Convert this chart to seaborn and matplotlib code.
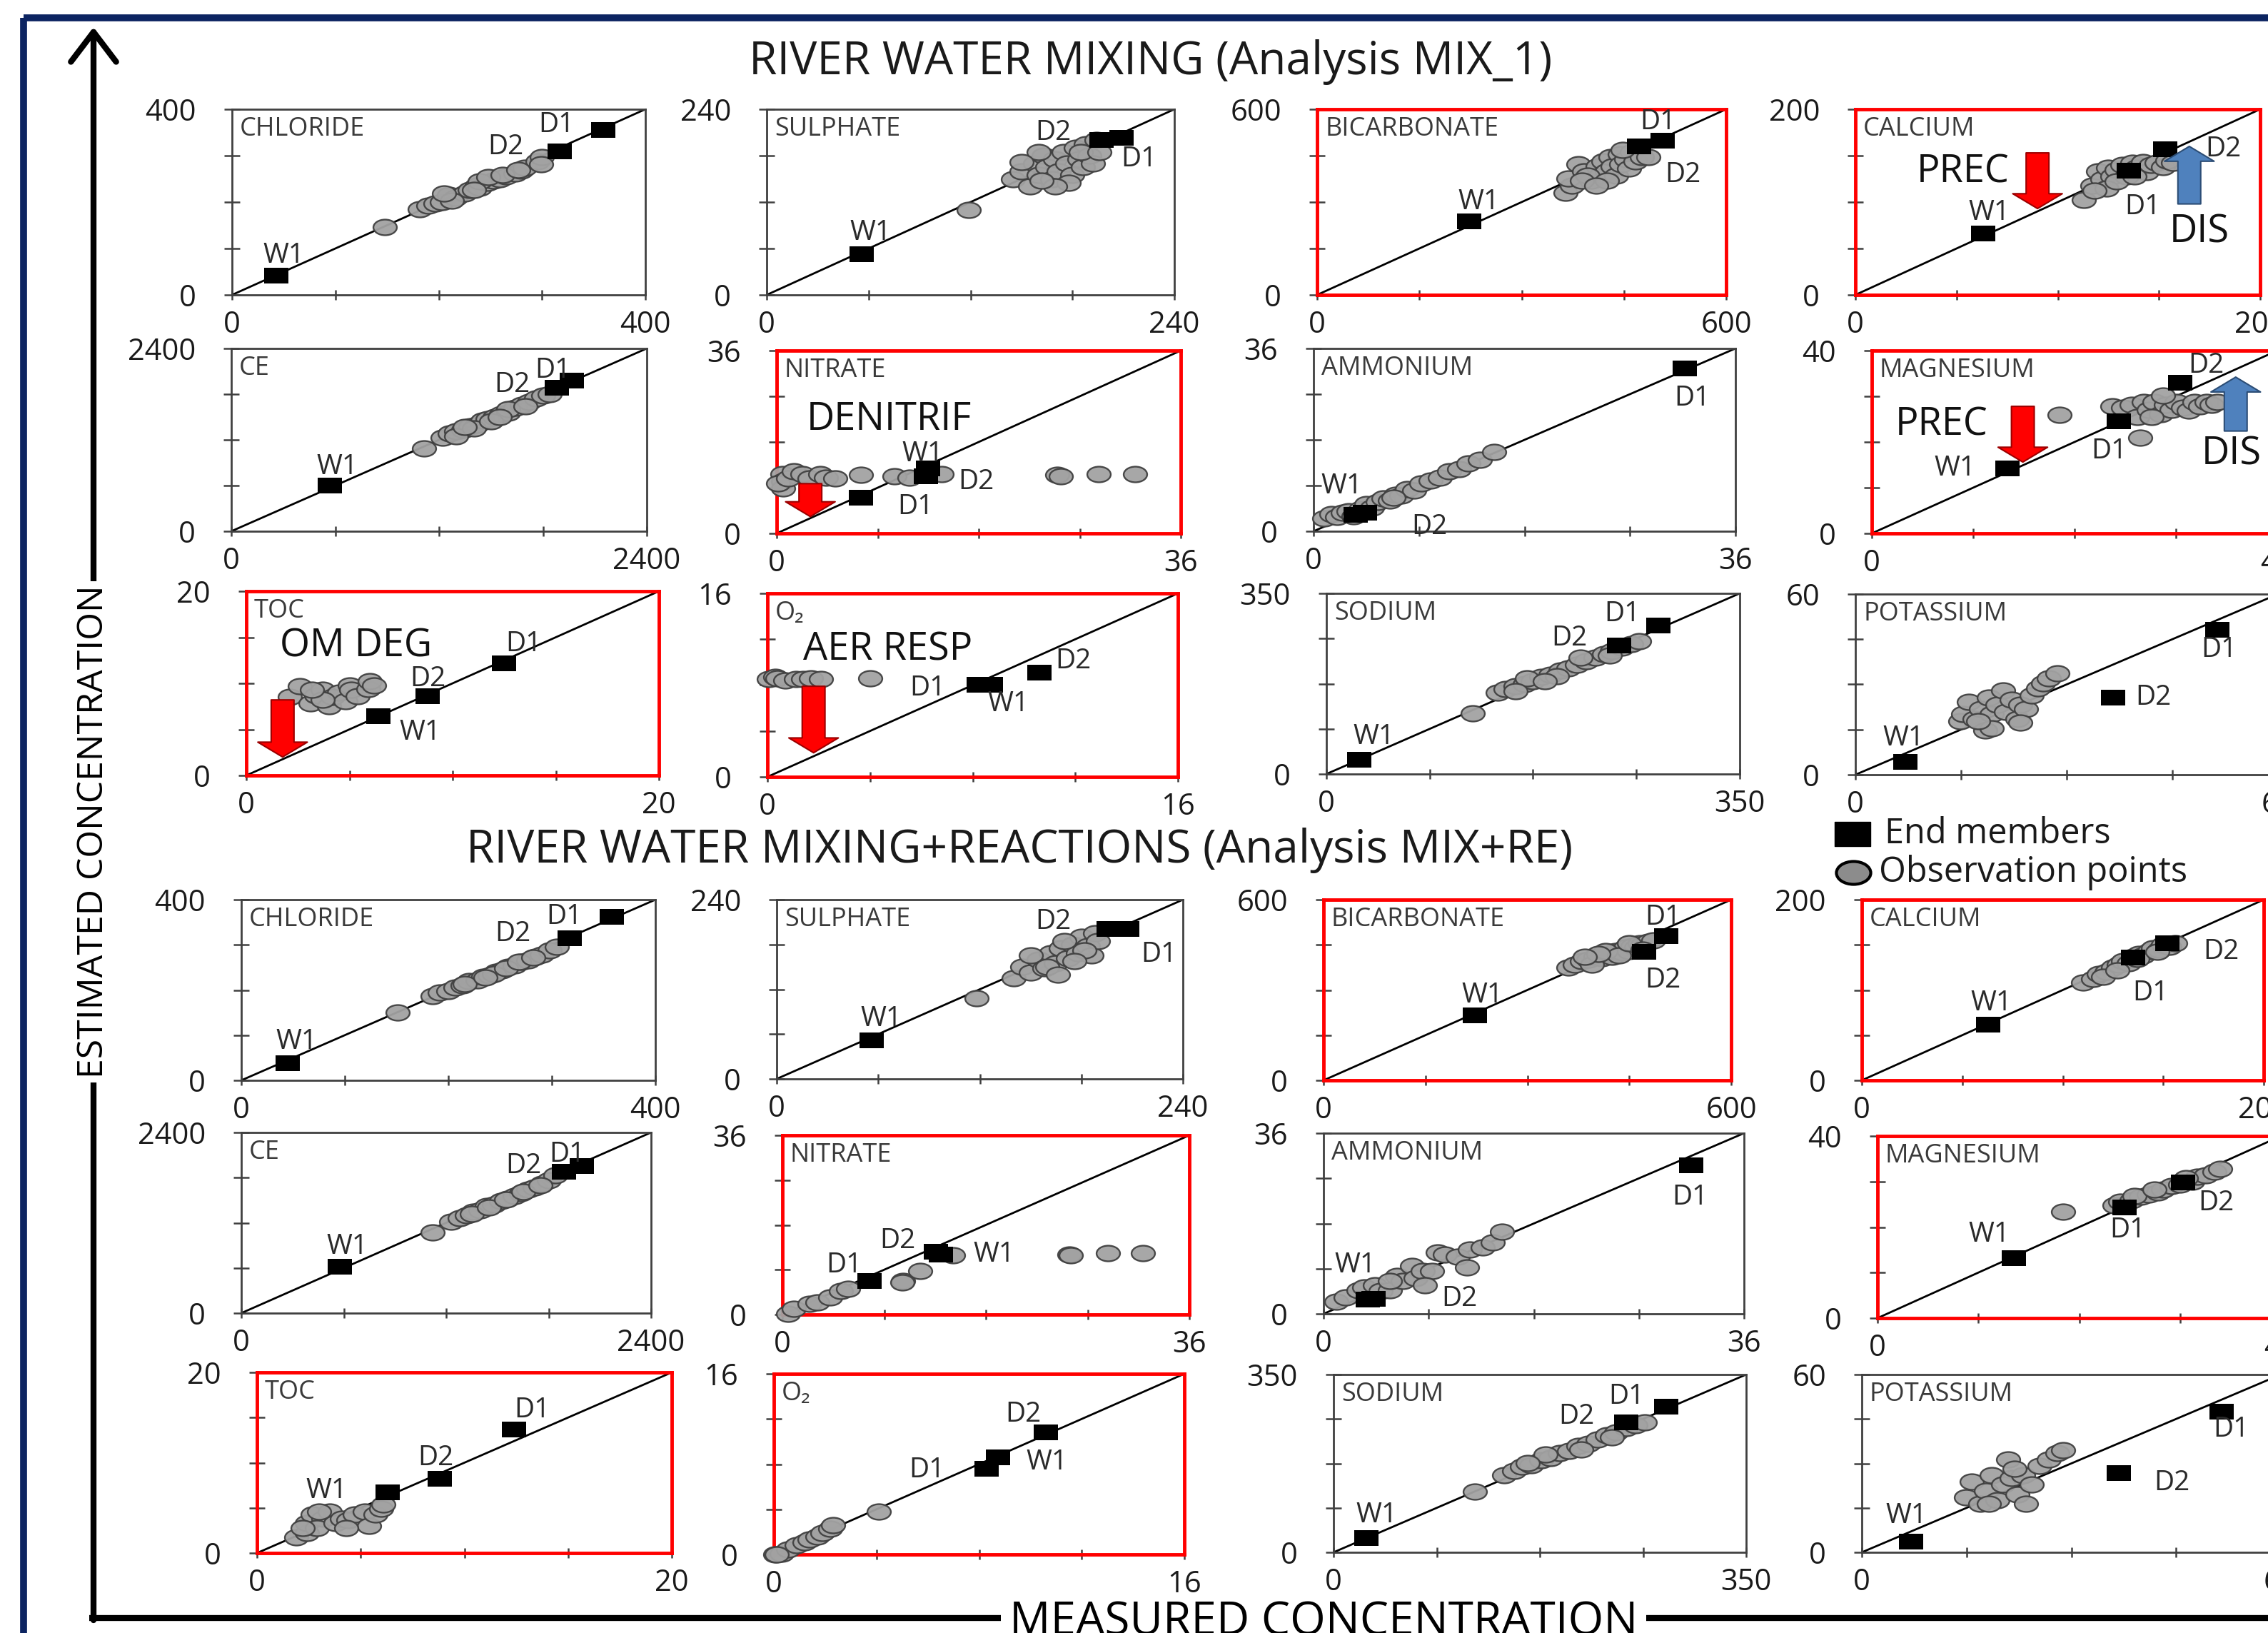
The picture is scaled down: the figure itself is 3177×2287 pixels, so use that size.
import matplotlib
matplotlib.use("Agg")
import matplotlib.pyplot as plt
import seaborn as sns
import numpy as np
from matplotlib.path import Path
from matplotlib.patches import Rectangle

# ---------------- data ----------------
panel_keys = ["cl", "so4", "hco3", "ca", "ce", "no3", "nh4", "mg", "toc", "o2", "na", "k"]
panel_names = ["CHLORIDE", "SULPHATE", "BICARBONATE", "CALCIUM", "CE", "NITRATE",
               "AMMONIUM", "MAGNESIUM", "TOC", "O\u2082", "SODIUM", "POTASSIUM"]
panel_max = [400, 240, 600, 200, 2400, 36, 36, 40, 20, 16, 350, 60]
red_panels = ["hco3", "ca", "no3", "mg", "toc", "o2"]
end_names = ["W1", "D1", "D2"]

# --- Analysis MIX_1 ---
m1_cl_obs_x = [148, 182, 190, 197, 203, 210, 216, 225, 230, 237, 240, 247, 253, 259, 265, 274, 280, 283, 296, 300, 240, 248, 262, 277, 299, 213, 205, 234]
m1_cl_obs_y = [146, 185, 192, 197, 200, 215, 210, 218, 226, 236, 231, 241, 246, 249, 256, 262, 267, 274, 287, 297, 244, 254, 259, 269, 282, 203, 218, 226]
m1_cl_end_x = [43, 359, 317]
m1_cl_end_y = [41, 356, 309]

m1_so4_obs_x = [119, 145, 150, 155, 158, 160, 163, 165, 168, 170, 172, 175, 177, 180, 182, 184, 186, 188, 190, 192, 194, 178, 170, 185, 160, 150, 196, 162]
m1_so4_obs_y = [110, 150, 160, 140, 170, 155, 180, 165, 150, 175, 160, 185, 170, 155, 190, 175, 165, 195, 180, 170, 200, 145, 140, 185, 185, 172, 185, 148]
m1_so4_end_x = [56, 209, 197]
m1_so4_end_y = [53, 203, 200]

m1_hco3_obs_x = [364, 374, 369, 383, 392, 402, 411, 416, 420, 425, 430, 434, 439, 444, 446, 453, 458, 462, 467, 476, 486, 448, 397, 388, 425, 409]
m1_hco3_obs_y = [331, 354, 377, 423, 400, 369, 415, 385, 431, 400, 446, 415, 385, 454, 423, 438, 408, 462, 431, 446, 446, 469, 385, 369, 369, 354]
m1_hco3_end_x = [223, 507, 472]
m1_hco3_end_y = [238, 498, 480]

m1_ca_obs_x = [113, 117, 120, 122, 125, 127, 129, 132, 134, 137, 139, 142, 144, 146, 149, 152, 154, 157, 124, 129, 138, 118]
m1_ca_obs_y = [102, 118, 133, 125, 137, 128, 135, 140, 128, 142, 137, 143, 132, 140, 142, 138, 145, 142, 115, 122, 128, 112]
m1_ca_end_x = [63, 135, 153]
m1_ca_end_y = [66, 134, 157]

m1_ce_obs_x = [1112, 1220, 1260, 1300, 1340, 1380, 1420, 1450, 1480, 1520, 1560, 1600, 1640, 1680, 1720, 1760, 1800, 1840, 1300, 1400, 1500, 1600, 1700, 1550, 1350]
m1_ce_obs_y = [1086, 1230, 1280, 1310, 1330, 1380, 1400, 1450, 1470, 1500, 1540, 1560, 1620, 1660, 1700, 1740, 1780, 1800, 1250, 1350, 1440, 1600, 1640, 1500, 1370]
m1_ce_end_x = [570, 1965, 1881]
m1_ce_end_y = [600, 1981, 1886]

m1_no3_obs_x = [0.5, 0.6, 0.6, 0.1, 1.0, 1.5, 2.3, 2.9, 3.9, 4.4, 5.2, 7.5, 10.5, 11.8, 14.7, 25.0, 25.3, 28.7, 31.9]
m1_no3_obs_y = [11.7, 10.3, 8.9, 9.8, 10.8, 12.2, 11.7, 10.8, 11.7, 11.0, 10.8, 11.5, 11.25, 10.9, 11.7, 11.5, 11.25, 11.7, 11.7]
m1_no3_end_x = [13.5, 7.5, 13.3]
m1_no3_end_y = [12.8, 7.0, 11.2]

m1_nh4_obs_x = [0.9, 1.5, 2.0, 2.5, 3.0, 4.0, 4.5, 5.0, 5.5, 6.0, 6.5, 7.0, 7.5, 8.0, 8.6, 9.2, 10.0, 10.8, 11.6, 12.4, 13.2, 14.2, 15.4, 3.4, 6.8]
m1_nh4_obs_y = [2.6, 3.4, 2.8, 3.6, 4.0, 4.4, 5.3, 4.6, 5.8, 6.4, 6.0, 7.2, 7.0, 8.3, 8.0, 9.4, 10.0, 10.6, 11.8, 12.2, 13.4, 14.0, 15.6, 3.0, 6.6]
m1_nh4_end_x = [3.6, 31.7, 4.4]
m1_nh4_end_y = [3.2, 32.0, 3.6]

m1_mg_obs_x = [18.5, 23.7, 24.8, 25.6, 26.2, 26.5, 26.8, 27.3, 27.9, 28.5, 29.0, 29.6, 30.1, 30.7, 31.3, 31.8, 32.4, 33.0, 33.5, 34.1, 27.6, 28.7]
m1_mg_obs_y = [25.9, 27.8, 27.5, 28.1, 25.4, 21.0, 28.8, 27.1, 28.8, 26.1, 28.1, 27.1, 28.8, 27.5, 26.8, 28.8, 27.8, 28.8, 28.1, 28.8, 25.4, 30.2]
m1_mg_end_x = [13.4, 24.4, 30.4]
m1_mg_end_y = [14.2, 24.5, 32.9]

m1_toc_obs_x = [2.1, 2.6, 3.1, 3.4, 3.7, 4.0, 4.2, 4.5, 4.8, 5.0, 5.1, 5.4, 5.9, 6.0, 6.2, 3.7, 3.2]
m1_toc_obs_y = [8.5, 9.7, 7.8, 8.7, 9.3, 7.5, 8.5, 9.0, 8.1, 9.8, 9.3, 8.6, 9.4, 10.2, 9.8, 8.2, 9.3]
m1_toc_end_x = [6.4, 12.5, 8.8]
m1_toc_end_y = [6.4, 12.2, 8.6]

m1_o2_obs_x = [0.05, 0.3, 0.4, 0.7, 1.1, 1.4, 1.7, 2.1, 4.0]
m1_o2_obs_y = [8.5, 8.7, 8.6, 8.4, 8.5, 8.5, 8.6, 8.5, 8.6]
m1_o2_end_x = [8.7, 8.25, 10.6]
m1_o2_end_y = [8.0, 8.0, 9.06]

m1_na_obs_x = [124, 145, 152, 160, 168, 175, 182, 190, 198, 205, 212, 220, 228, 235, 242, 250, 258, 265, 170, 195, 215, 240, 160, 185]
m1_na_obs_y = [118, 158, 165, 170, 175, 180, 188, 192, 200, 205, 212, 218, 225, 232, 238, 245, 252, 258, 185, 190, 225, 230, 160, 180]
m1_na_end_x = [28, 281, 248]
m1_na_end_y = [28, 288, 249]

m1_k_obs_x = [14.9, 15.3, 16.1, 16.9, 17.8, 18.4, 19.0, 19.4, 20.2, 21.0, 21.4, 22.2, 23.0, 23.4, 24.2, 25.0, 25.9, 26.7, 27.5, 28.7, 19.4, 23.4, 17.4]
m1_k_obs_y = [17.8, 20.1, 24.1, 18.6, 21.7, 14.6, 25.7, 20.1, 23.3, 28.0, 20.9, 24.9, 18.6, 23.3, 21.7, 26.4, 28.8, 30.4, 32.0, 33.6, 15.4, 17.4, 17.8]
m1_k_end_x = [7.1, 51.4, 36.6]
m1_k_end_y = [4.3, 48.2, 25.7]

# --- Analysis MIX+RE ---
m2_cl_obs_x = [151, 185, 192, 200, 207, 214, 220, 228, 234, 240, 246, 252, 258, 264, 270, 277, 284, 290, 298, 305, 244, 256, 268, 282, 216, 236]
m2_cl_obs_y = [150, 187, 194, 198, 206, 211, 219, 222, 230, 233, 241, 244, 252, 255, 262, 266, 274, 278, 288, 296, 236, 248, 262, 272, 214, 228]
m2_cl_end_x = [45, 358, 317]
m2_cl_end_y = [38, 362, 314]

m2_so4_obs_x = [118, 140, 145, 150, 155, 158, 162, 165, 168, 172, 175, 178, 180, 184, 186, 188, 190, 150, 160, 170, 182, 176, 166]
m2_so4_obs_y = [108, 135, 150, 142, 160, 148, 168, 155, 175, 162, 180, 168, 190, 178, 165, 195, 185, 165, 150, 185, 172, 158, 140]
m2_so4_end_x = [56, 207, 196]
m2_so4_end_y = [52, 201, 201]

m2_hco3_obs_x = [360, 370, 380, 390, 400, 410, 420, 425, 430, 440, 445, 450, 455, 460, 465, 470, 478, 485, 395, 415, 435, 450, 405, 385, 470]
m2_hco3_obs_y = [375, 385, 395, 400, 410, 405, 420, 410, 430, 425, 440, 430, 445, 440, 455, 450, 460, 465, 385, 430, 415, 455, 420, 410, 435]
m2_hco3_end_x = [223, 504, 472]
m2_hco3_end_y = [216, 480, 427]

m2_ca_obs_x = [110, 115, 118, 122, 125, 128, 130, 133, 135, 138, 140, 143, 145, 148, 150, 153, 156, 120, 127, 137, 147]
m2_ca_obs_y = [108, 112, 118, 120, 125, 128, 132, 130, 137, 140, 138, 143, 146, 145, 150, 148, 152, 115, 122, 134, 142]
m2_ca_end_x = [63, 135, 152]
m2_ca_end_y = [62, 136, 152]

m2_ce_obs_x = [1119, 1230, 1280, 1320, 1360, 1400, 1440, 1480, 1520, 1560, 1600, 1640, 1680, 1720, 1760, 1800, 1840, 1350, 1450, 1550, 1650, 1750]
m2_ce_obs_y = [1075, 1210, 1260, 1300, 1350, 1370, 1420, 1440, 1490, 1520, 1560, 1590, 1640, 1670, 1720, 1760, 1830, 1320, 1400, 1510, 1610, 1700]
m2_ce_end_x = [577, 1993, 1891]
m2_ce_end_y = [614, 1958, 1882]

m2_no3_obs_x = [0.5, 1.0, 2.4, 3.1, 4.2, 5.2, 5.8, 10.7, 10.6, 12.2, 15.1, 25.4, 25.5, 28.8, 31.9]
m2_no3_obs_y = [0.1, 1.1, 2.1, 2.5, 3.5, 4.7, 5.2, 6.8, 6.4, 8.7, 11.9, 12.1, 11.9, 12.3, 12.3]
m2_no3_end_x = [14.0, 7.7, 13.6]
m2_no3_end_y = [12.1, 6.8, 12.6]

m2_nh4_obs_x = [1.1, 1.9, 3.0, 3.5, 4.4, 4.9, 5.7, 6.3, 6.8, 7.6, 7.9, 8.5, 9.3, 9.8, 10.4, 11.5, 12.3, 12.5, 13.6, 14.5, 15.3, 8.7, 5.7]
m2_nh4_obs_y = [2.4, 3.3, 4.7, 5.2, 5.7, 4.5, 4.7, 7.6, 6.6, 9.5, 7.1, 8.5, 8.5, 12.3, 11.8, 11.4, 9.2, 12.8, 13.3, 14.2, 16.3, 5.7, 6.6]
m2_nh4_end_x = [3.8, 31.5, 4.3]
m2_nh4_end_y = [2.8, 29.6, 3.0]

m2_mg_obs_x = [18.4, 23.5, 24.1, 25.2, 26.1, 26.9, 27.8, 28.3, 29.2, 30.0, 31.2, 31.7, 32.6, 33.4, 34.0, 25.5, 27.5, 30.6]
m2_mg_obs_y = [23.4, 24.8, 25.5, 25.9, 26.6, 27.2, 27.6, 28.3, 29.0, 29.3, 30.0, 31.0, 31.4, 32.1, 32.8, 26.9, 28.3, 30.7]
m2_mg_end_x = [13.5, 24.5, 30.3]
m2_mg_end_y = [13.1, 24.3, 29.8]

m2_toc_obs_x = [1.9, 2.4, 2.4, 2.7, 3.2, 2.9, 3.5, 3.8, 4.1, 4.4, 4.7, 5.2, 5.4, 5.7, 6.0, 6.1, 2.2, 3.0, 4.3]
m2_toc_obs_y = [1.7, 2.2, 3.3, 4.3, 3.8, 2.8, 4.6, 3.3, 3.8, 3.6, 4.3, 4.6, 3.0, 4.3, 4.9, 5.4, 2.8, 4.6, 2.8]
m2_toc_end_x = [6.3, 12.4, 8.8]
m2_toc_end_y = [6.7, 13.7, 8.2]

m2_o2_obs_x = [0.05, 0.3, 0.55, 0.9, 1.2, 1.4, 1.7, 1.9, 2.2, 2.3, 4.1, 0.1]
m2_o2_obs_y = [0.0, 0.04, 0.46, 0.8, 1.1, 1.3, 1.6, 1.9, 2.25, 2.6, 3.8, 0.0]
m2_o2_end_x = [8.75, 8.3, 10.6]
m2_o2_end_y = [8.57, 7.6, 10.8]

m2_na_obs_x = [120, 145, 153, 160, 168, 176, 184, 192, 200, 208, 216, 224, 232, 240, 248, 256, 264, 180, 210, 236, 165]
m2_na_obs_y = [120, 152, 160, 168, 172, 182, 186, 196, 200, 210, 214, 222, 230, 236, 244, 250, 256, 192, 202, 226, 176]
m2_na_end_x = [28, 282, 248]
m2_na_end_y = [28, 287, 256]

m2_k_obs_x = [14.9, 15.7, 17.0, 17.8, 18.6, 19.4, 20.2, 21.0, 21.5, 22.3, 23.1, 23.5, 24.3, 25.5, 26.8, 28.0, 28.8, 18.2, 21.9]
m2_k_obs_y = [18.6, 23.9, 16.5, 20.7, 26.0, 17.5, 22.8, 31.3, 25.0, 19.6, 26.0, 16.5, 22.8, 29.2, 31.3, 33.5, 34.5, 16.5, 28.1]
m2_k_end_x = [7.1, 51.5, 36.8]
m2_k_end_y = [3.5, 47.5, 26.8]

# ---------------- layout (pixels of the 3177x2287 canvas) ----------------
W, H = 3177, 2287
PT = 72 / 100  # px -> pt at dpi 100

# panel boxes: left, top, right, bottom
m1_rects = [(325, 153, 904, 413), (1074, 153, 1645, 413), (1845, 153, 2418, 413), (2599, 153, 3166, 413),
            (324, 488, 906, 744), (1088, 491, 1654, 747), (1840, 488, 2431, 744), (2622, 491, 3190, 747),
            (345, 828, 923, 1086), (1075, 831, 1650, 1088), (1858, 831, 2437, 1084), (2599, 832, 3191, 1085)]
m2_rects = [(338, 1260, 918, 1513), (1088, 1260, 1657, 1511), (1854, 1260, 2425, 1513), (2608, 1260, 3171, 1513),
            (338, 1586, 912, 1839), (1096, 1590, 1666, 1841), (1854, 1587, 2443, 1840), (2630, 1591, 3195, 1846),
            (360, 1922, 941, 2175), (1084, 1924, 1659, 2177), (1868, 1925, 2446, 2174), (2608, 1925, 3195, 2174)]

# label offsets (px, right / up) for W1, D1, D2
m1_offsets = {"cl": [(10, 28), (-65, 7), (-75, 6)], "so4": [(12, 30), (24, -30), (-67, 10)],
              "hco3": [(14, 27), (-7, 26), (62, -40)], "ca": [(9, 29), (20, -51), (82, 0)],
              "ce": [(10, 26), (-26, 14), (-63, 4)], "no3": [(-8, 20), (77, -13), (70, -8)],
              "nh4": [(-20, 40), (10, -42), (90, -20)], "mg": [(-74, 0), (-14, -42), (37, 24)],
              "toc": [(59, -23), (27, 27), (0, 24)], "o2": [(25, -27), (-72, -5), (47, 16)],
              "na": [(20, 32), (-50, 16), (-70, 10)], "k": [(-3, 33), (2, -28), (56, 0)]}
m2_offsets = {"cl": [(12, 30), (-67, 0), (-79, 6)], "so4": [(14, 30), (45, -36), (-77, 10)],
              "hco3": [(10, 28), (-4, 26), (26, -40)], "ca": [(4, 30), (24, -50), (75, -12)],
              "ce": [(10, 28), (-20, 16), (-57, 8)], "no3": [(75, 0), (-35, 22), (-54, 15)],
              "nh4": [(-18, 48), (-2, -45), (120, 0)], "mg": [(-34, 33), (4, -32), (46, -29)],
              "toc": [(-86, 2), (25, 27), (-5, 29)], "o2": [(68, -7), (-84, -2), (-32, 25)],
              "na": [(14, 32), (-55, 14), (-69, 8)], "k": [(-7, 36), (14, -25), (74, -14)]}

# process arrows in MIX_1: panel, x, tail y, head y, colour, label, label x, label y
m1_processes = [("ca", 90, 153, 93, "red", "PREC", 53, 132),
                ("ca", 165, 98, 160, "blue", "DIS", 170, 68),
                ("mg", 14.9, 27.8, 15.6, "red", "PREC", 6.9, 23.7),
                ("mg", 35.9, 22.4, 34.2, "blue", "DIS", 35.5, 17.3),
                ("no3", 3.0, 9.8, 3.3, "red", "DENITRIF", 10.0, 22.4),
                ("toc", 1.76, 8.2, 2.0, "red", "OM DEG", 5.3, 14.0),
                ("o2", 1.8, 7.9, 2.1, "red", "AER RESP", 4.7, 11.1)]

# ---------------- style ----------------
sns.set_style("ticks")
plt.rcParams["font.family"] = ["Open Sans", "DejaVu Sans"]

circ = Path.unit_circle()
ellipse = Path(circ.vertices * np.array([1.5, 1.0]), circ.codes)
box = Path([(-1.5, -1), (1.5, -1), (1.5, 1), (-1.5, 1), (-1.5, -1)],
           [Path.MOVETO, Path.LINETO, Path.LINETO, Path.LINETO, Path.CLOSEPOLY])

arrow_fc = {"red": "#ff0000", "blue": "#4f81bd"}
arrow_ec = {"red": "#9c0000", "blue": "#2c4d75"}

fig = plt.figure(figsize=(W / 100, H / 100), dpi=100)

bg = fig.add_axes([0, 0, 1, 1])
bg.set_xlim(0, W)
bg.set_ylim(H, 0)
bg.axis("off")
bg.set_zorder(-1)


def draw_panel(prefix, i, rect, offsets):
    key = panel_keys[i]
    vmax = panel_max[i]
    g = globals()
    l, t, r, b = rect
    ax = fig.add_axes([l / W, 1 - b / H, (r - l) / W, (b - t) / H])
    ax.set_xlim(0, vmax)
    ax.set_ylim(0, vmax)

    sns.lineplot(x=[0, vmax], y=[0, vmax], ax=ax, color="black", linewidth=2, zorder=2)
    sns.scatterplot(x=g[f"{prefix}_{key}_obs_x"], y=g[f"{prefix}_{key}_obs_y"], ax=ax,
                    marker=ellipse, s=560, color="#a2a2a2", edgecolor="#404040",
                    linewidth=1.7, alpha=0.95, zorder=3, clip_on=False, legend=False)
    ex, ey = g[f"{prefix}_{key}_end_x"], g[f"{prefix}_{key}_end_y"]
    sns.scatterplot(x=ex, y=ey, ax=ax, marker=box, s=580, color="black",
                    edgecolor="black", linewidth=0, zorder=4, clip_on=False, legend=False)
    for nm, x, y, (dx, dy) in zip(end_names, ex, ey, offsets[key]):
        ax.annotate(nm, xy=(x, y), xytext=(dx * PT, dy * PT), textcoords="offset points",
                    ha="center", va="center", fontsize=28, color="#2a2a2a", zorder=5,
                    annotation_clip=False)

    ticks = np.linspace(0, vmax, 5)
    labels = ["0", "", "", "", str(vmax)]
    ax.set_xticks(ticks)
    ax.set_xticklabels(labels)
    ax.set_yticks(ticks)
    ax.set_yticklabels(labels)
    ax.tick_params(axis="x", direction="inout", length=10, width=1.8, color="#404040",
                   labelsize=30, pad=10, labelcolor="#1a1a1a")
    ax.tick_params(axis="y", direction="inout", length=16, width=1.8, color="#404040",
                   labelsize=30, pad=28, labelcolor="#1a1a1a")
    ax.set_xlabel("")
    ax.set_ylabel("")

    red = key in red_panels
    for sp in ax.spines.values():
        sp.set_visible(True)
        sp.set_color("#ff0000" if red else "#404040")
        sp.set_linewidth(3.5 if red else 2)

    ax.annotate(panel_names[i], xy=(0, 1), xycoords="axes fraction", xytext=(11 * PT, -28 * PT),
                textcoords="offset points", ha="left", va="center", fontsize=26, color="#3a3a3a")
    return ax


m1_axes = {}
for i, rect in enumerate(m1_rects):
    m1_axes[panel_keys[i]] = draw_panel("m1", i, rect, m1_offsets)
for i, rect in enumerate(m2_rects):
    draw_panel("m2", i, rect, m2_offsets)

for key, x, y0, y1, col, txt, tx, ty in m1_processes:
    ax = m1_axes[key]
    ax.annotate("", xy=(x, y1), xytext=(x, y0),
                arrowprops=dict(arrowstyle="simple,head_length=1.5,head_width=5,tail_width=2.3",
                                fc=arrow_fc[col], ec=arrow_ec[col], lw=1.5,
                                shrinkA=0, shrinkB=0, mutation_scale=10), zorder=6)
    ax.text(tx, ty, txt, ha="center", va="center", fontsize=39, color="#111111", zorder=6)

# ---------------- figure decorations ----------------
bg.add_patch(Rectangle((33, 25), 3400, 2400, fill=False, ec="#0c2461", lw=7, clip_on=False))

bg.text(1612, 87, "RIVER WATER MIXING (Analysis MIX_1)", ha="center", va="center",
        fontsize=46, color="#1a1a1a")
bg.text(1428, 1191, "RIVER WATER MIXING+REACTIONS (Analysis MIX+RE)", ha="center", va="center",
        fontsize=46, color="#1a1a1a")

# legend
bg.scatter([2595], [1168], marker=box, s=1300, color="black")
bg.scatter([2596], [1222], marker=ellipse, s=1200, facecolor="#8c8c8c", edgecolor="black", linewidth=3)
bg.text(2640, 1168, "End members", ha="left", va="center", fontsize=35, color="#1a1a1a")
bg.text(2632, 1222, "Observation points", ha="left", va="center", fontsize=35, color="#1a1a1a")

# big axis arrows
bg.annotate("", xy=(131, 38), xytext=(131, 2269),
            arrowprops=dict(arrowstyle="->,head_length=0.5,head_width=0.38", lw=6, color="black",
                            shrinkA=0, shrinkB=0, mutation_scale=60))
bg.text(131, 1165, "ESTIMATED CONCENTRATION", rotation=90, ha="center", va="center",
        fontsize=36, color="black", bbox=dict(fc="white", ec="none", pad=4))
xlab = bg.text(1854, 2240, "MEASURED CONCENTRATION", ha="center", va="top",
               fontsize=46, color="black")

# bottom axis line, broken around its label
renderer = fig.canvas.get_renderer()
ext = xlab.get_window_extent(renderer)
bg.plot([125, ext.x0 - 12], [2266, 2266], color="black", lw=6, solid_capstyle="butt")
bg.plot([ext.x1 + 12, W + 10], [2266, 2266], color="black", lw=6, solid_capstyle="butt")

fig.savefig("out.png", dpi=100)
